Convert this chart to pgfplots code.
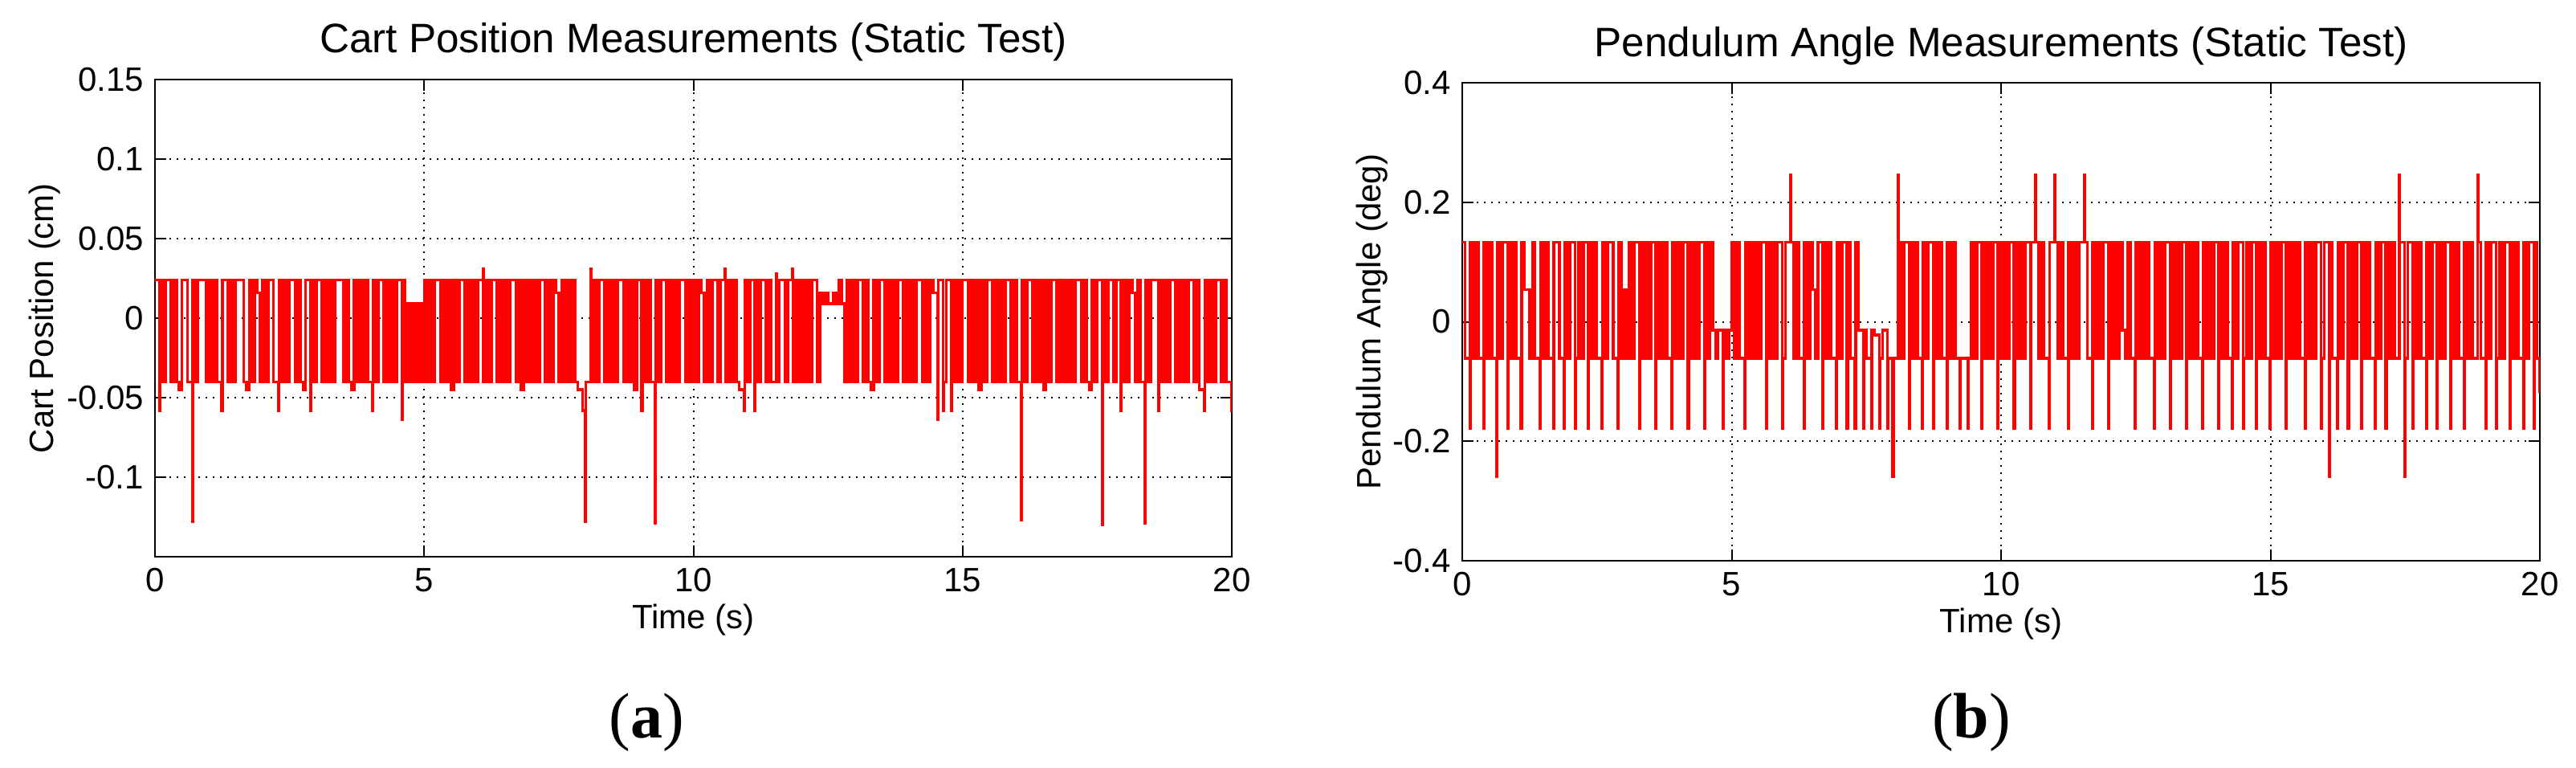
\documentclass[border=0pt]{standalone}
\usepackage{fontspec}
\setmainfont{Liberation Sans}
\newfontfamily\subfont{Liberation Serif}
\usepackage{pgfplots}
\usepackage{pgfplotstable}
\pgfplotsset{compat=1.18}

\pgfplotstableread[row sep=\\]{
t y \\
0.00 0.024 \\ 0.09 -0.058 \\ 0.10 0.024 \\ 0.15 -0.040 \\ 0.20 0.024 \\ 0.25 0.024 \\ 0.30 -0.040 \\ 0.35 0.024 \\ 0.40 -0.040 \\ 0.45 -0.045 \\
0.50 0.024 \\ 0.55 0.024 \\ 0.60 -0.040 \\ 0.69 -0.128 \\ 0.70 0.024 \\ 0.75 -0.040 \\ 0.80 0.024 \\ 0.85 0.024 \\ 0.90 0.024 \\ 0.95 -0.040 \\
1.00 0.024 \\ 1.05 -0.040 \\ 1.10 0.024 \\ 1.15 -0.040 \\ 1.24 -0.058 \\ 1.25 0.024 \\ 1.30 0.024 \\ 1.35 -0.040 \\ 1.40 0.024 \\ 1.45 -0.040 \\
1.50 0.024 \\ 1.55 0.024 \\ 1.60 0.024 \\ 1.65 -0.040 \\ 1.70 -0.045 \\ 1.75 0.024 \\ 1.80 -0.040 \\ 1.85 0.024 \\ 1.90 0.016 \\ 1.95 -0.040 \\
2.00 0.024 \\ 2.05 -0.040 \\ 2.10 0.024 \\ 2.15 0.024 \\ 2.20 -0.040 \\ 2.29 -0.058 \\ 2.30 0.024 \\ 2.35 -0.040 \\ 2.40 0.024 \\ 2.45 -0.040 \\
2.50 0.024 \\ 2.55 0.024 \\ 2.60 -0.040 \\ 2.65 0.024 \\ 2.70 -0.040 \\ 2.75 -0.045 \\ 2.80 0.024 \\ 2.89 -0.058 \\ 2.90 0.024 \\ 2.95 -0.040 \\
3.00 0.024 \\ 3.05 0.024 \\ 3.10 -0.040 \\ 3.15 0.024 \\ 3.20 -0.040 \\ 3.25 0.024 \\ 3.30 -0.040 \\ 3.35 0.024 \\ 3.40 0.024 \\ 3.45 0.024 \\
3.50 -0.040 \\ 3.55 0.024 \\ 3.60 -0.040 \\ 3.65 -0.045 \\ 3.70 0.024 \\ 3.75 -0.040 \\ 3.80 0.024 \\ 3.85 -0.040 \\ 3.90 0.024 \\ 3.95 -0.040 \\
4.04 -0.058 \\ 4.05 0.024 \\ 4.10 -0.040 \\ 4.15 0.024 \\ 4.20 0.024 \\ 4.25 -0.040 \\ 4.30 0.024 \\ 4.35 -0.040 \\ 4.40 0.024 \\ 4.45 -0.040 \\
4.50 0.024 \\ 4.59 -0.064 \\ 4.60 0.024 \\ 4.65 -0.040 \\ 4.70 0.009 \\ 4.75 -0.040 \\ 4.80 0.009 \\ 4.85 -0.040 \\ 4.90 0.009 \\ 4.95 -0.040 \\
5.00 0.024 \\ 5.05 -0.040 \\ 5.10 0.024 \\ 5.15 -0.040 \\ 5.20 0.024 \\ 5.25 0.024 \\ 5.30 -0.040 \\ 5.35 0.024 \\ 5.40 -0.040 \\ 5.45 0.024 \\
5.50 -0.045 \\ 5.55 0.024 \\ 5.60 -0.040 \\ 5.65 0.024 \\ 5.70 0.024 \\ 5.75 -0.040 \\ 5.80 0.024 \\ 5.85 -0.040 \\ 5.90 0.024 \\ 5.95 -0.040 \\
6.00 0.024 \\ 6.09 0.031 \\ 6.10 -0.040 \\ 6.15 0.024 \\ 6.20 -0.040 \\ 6.25 0.024 \\ 6.30 0.024 \\ 6.35 -0.040 \\ 6.40 0.024 \\ 6.45 -0.040 \\
6.50 0.024 \\ 6.55 -0.040 \\ 6.60 0.024 \\ 6.65 0.024 \\ 6.70 -0.040 \\ 6.75 0.024 \\ 6.80 -0.045 \\ 6.85 0.024 \\ 6.90 -0.040 \\ 6.95 0.024 \\
7.00 -0.040 \\ 7.05 0.024 \\ 7.10 -0.040 \\ 7.15 0.024 \\ 7.20 0.024 \\ 7.25 -0.040 \\ 7.30 0.024 \\ 7.35 -0.040 \\ 7.40 0.024 \\ 7.45 0.016 \\
7.50 -0.040 \\ 7.55 0.024 \\ 7.60 -0.040 \\ 7.65 0.024 \\ 7.70 -0.040 \\ 7.75 0.024 \\ 7.80 -0.040 \\ 7.85 -0.045 \\ 7.94 -0.058 \\ 7.99 -0.128 \\
8.00 -0.040 \\ 8.09 0.031 \\ 8.10 -0.040 \\ 8.15 0.024 \\ 8.20 -0.040 \\ 8.25 0.024 \\ 8.30 0.024 \\ 8.35 -0.040 \\ 8.40 0.024 \\ 8.45 -0.040 \\
8.50 0.024 \\ 8.55 -0.040 \\ 8.60 0.024 \\ 8.65 0.024 \\ 8.70 -0.040 \\ 8.75 0.024 \\ 8.80 -0.040 \\ 8.85 0.024 \\ 8.90 -0.045 \\ 8.95 0.024 \\
9.04 -0.058 \\ 9.05 0.024 \\ 9.10 -0.040 \\ 9.15 0.024 \\ 9.20 -0.040 \\ 9.29 -0.129 \\ 9.30 0.024 \\ 9.35 -0.040 \\ 9.40 0.024 \\ 9.45 0.024 \\
9.50 -0.040 \\ 9.55 0.024 \\ 9.60 -0.040 \\ 9.65 0.024 \\ 9.70 -0.040 \\ 9.75 0.024 \\ 9.80 0.024 \\ 9.85 -0.040 \\ 9.90 0.024 \\ 9.95 -0.040 \\
10.00 0.024 \\ 10.05 -0.040 \\ 10.10 0.024 \\ 10.15 0.016 \\ 10.20 -0.040 \\ 10.25 0.024 \\ 10.30 -0.040 \\ 10.35 0.024 \\ 10.40 0.024 \\ 10.45 -0.040 \\
10.50 0.024 \\ 10.59 0.031 \\ 10.60 -0.040 \\ 10.65 0.024 \\ 10.70 -0.040 \\ 10.75 0.024 \\ 10.80 -0.040 \\ 10.85 -0.045 \\ 10.94 -0.058 \\ 10.95 0.024 \\
11.00 -0.040 \\ 11.05 0.024 \\ 11.14 -0.058 \\ 11.15 0.024 \\ 11.20 -0.040 \\ 11.25 0.024 \\ 11.30 0.024 \\ 11.35 -0.040 \\ 11.40 0.024 \\ 11.45 -0.040 \\
11.54 0.028 \\ 11.55 -0.040 \\ 11.60 0.024 \\ 11.65 0.024 \\ 11.70 -0.040 \\ 11.75 0.024 \\ 11.84 0.031 \\ 11.85 -0.040 \\ 11.90 0.024 \\ 11.95 -0.040 \\
12.00 0.024 \\ 12.05 -0.040 \\ 12.10 0.024 \\ 12.15 -0.040 \\ 12.20 0.024 \\ 12.25 0.024 \\ 12.30 -0.040 \\ 12.35 0.016 \\ 12.40 0.009 \\ 12.45 0.016 \\
12.50 0.009 \\ 12.55 0.009 \\ 12.60 0.016 \\ 12.65 0.009 \\ 12.70 0.024 \\ 12.75 0.009 \\ 12.80 -0.040 \\ 12.85 0.024 \\ 12.90 -0.040 \\ 12.95 0.024 \\
13.00 -0.040 \\ 13.05 0.024 \\ 13.10 0.024 \\ 13.15 -0.040 \\ 13.20 0.024 \\ 13.25 -0.040 \\ 13.30 -0.045 \\ 13.35 0.024 \\ 13.40 -0.040 \\ 13.45 0.024 \\
13.50 0.024 \\ 13.55 -0.040 \\ 13.60 0.024 \\ 13.65 -0.040 \\ 13.70 0.024 \\ 13.75 -0.040 \\ 13.80 0.024 \\ 13.85 0.024 \\ 13.90 -0.040 \\ 13.95 0.024 \\
14.00 -0.040 \\ 14.05 0.024 \\ 14.10 -0.040 \\ 14.15 0.024 \\ 14.20 0.024 \\ 14.25 -0.040 \\ 14.30 0.024 \\ 14.35 -0.040 \\ 14.40 0.024 \\ 14.45 0.016 \\
14.54 -0.064 \\ 14.55 0.024 \\ 14.64 -0.058 \\ 14.65 -0.040 \\ 14.70 0.024 \\ 14.79 -0.058 \\ 14.80 0.024 \\ 14.85 -0.040 \\ 14.90 0.024 \\ 14.95 -0.040 \\
15.00 0.024 \\ 15.05 0.024 \\ 15.10 -0.040 \\ 15.15 0.024 \\ 15.20 -0.040 \\ 15.25 0.024 \\ 15.30 -0.045 \\ 15.35 0.024 \\ 15.40 -0.040 \\ 15.45 0.024 \\
15.50 0.024 \\ 15.55 -0.040 \\ 15.60 0.024 \\ 15.65 -0.040 \\ 15.70 0.024 \\ 15.75 -0.040 \\ 15.80 0.024 \\ 15.85 0.024 \\ 15.90 -0.040 \\ 15.95 0.024 \\
16.00 -0.040 \\ 16.09 -0.127 \\ 16.10 0.024 \\ 16.15 -0.040 \\ 16.20 0.024 \\ 16.25 0.024 \\ 16.30 -0.040 \\ 16.35 0.024 \\ 16.40 -0.040 \\ 16.45 0.024 \\
16.50 -0.045 \\ 16.55 0.024 \\ 16.60 -0.040 \\ 16.65 0.024 \\ 16.70 0.024 \\ 16.75 -0.040 \\ 16.80 0.024 \\ 16.85 -0.040 \\ 16.90 0.024 \\ 16.95 -0.040 \\
17.00 0.024 \\ 17.05 -0.040 \\ 17.10 0.024 \\ 17.15 0.024 \\ 17.20 -0.040 \\ 17.25 0.024 \\ 17.30 -0.040 \\ 17.35 -0.045 \\ 17.40 0.024 \\ 17.45 -0.040 \\
17.50 0.024 \\ 17.59 -0.130 \\ 17.60 0.024 \\ 17.65 -0.040 \\ 17.70 0.024 \\ 17.75 0.024 \\ 17.80 -0.040 \\ 17.85 0.024 \\ 17.94 -0.058 \\ 17.95 -0.040 \\
18.00 0.024 \\ 18.05 -0.040 \\ 18.10 0.024 \\ 18.15 0.016 \\ 18.20 -0.040 \\ 18.25 0.024 \\ 18.30 -0.040 \\ 18.39 -0.129 \\ 18.40 0.024 \\ 18.45 -0.040 \\
18.50 0.024 \\ 18.55 0.024 \\ 18.64 -0.058 \\ 18.65 0.024 \\ 18.70 -0.040 \\ 18.75 0.024 \\ 18.80 -0.040 \\ 18.85 0.024 \\ 18.90 0.024 \\ 18.95 -0.040 \\
19.00 0.024 \\ 19.05 -0.040 \\ 19.10 0.024 \\ 19.15 -0.040 \\ 19.20 0.024 \\ 19.25 0.024 \\ 19.30 -0.040 \\ 19.35 0.024 \\ 19.40 -0.045 \\ 19.49 -0.058 \\
19.50 0.024 \\ 19.55 -0.040 \\ 19.60 0.024 \\ 19.65 -0.040 \\ 19.70 0.024 \\ 19.75 0.024 \\ 19.80 -0.040 \\ 19.85 0.024 \\ 19.90 -0.040 \\ 19.99 -0.058 \\
20.00 -0.045 \\
}\cartdata

\pgfplotstableread[row sep=\\]{
t y \\
0.00 0.133 \\ 0.05 -0.061 \\ 0.14 -0.178 \\ 0.15 0.133 \\ 0.20 -0.061 \\ 0.25 0.133 \\ 0.30 -0.061 \\ 0.39 -0.178 \\ 0.40 0.133 \\ 0.45 -0.061 \\
0.50 0.133 \\ 0.55 -0.061 \\ 0.64 -0.259 \\ 0.65 0.133 \\ 0.70 -0.061 \\ 0.75 0.133 \\ 0.84 -0.178 \\ 0.85 0.133 \\ 0.90 -0.061 \\ 0.95 0.133 \\
1.00 -0.061 \\ 1.09 -0.178 \\ 1.10 0.133 \\ 1.15 0.054 \\ 1.20 0.054 \\ 1.25 -0.061 \\ 1.30 0.133 \\ 1.35 -0.061 \\ 1.44 -0.178 \\ 1.45 0.133 \\
1.50 -0.061 \\ 1.55 0.133 \\ 1.60 -0.061 \\ 1.69 -0.178 \\ 1.70 0.133 \\ 1.75 0.133 \\ 1.80 -0.061 \\ 1.89 -0.178 \\ 1.90 0.133 \\ 1.95 -0.061 \\
2.00 0.133 \\ 2.09 -0.178 \\ 2.10 -0.061 \\ 2.15 0.133 \\ 2.20 -0.061 \\ 2.25 0.133 \\ 2.34 -0.178 \\ 2.35 0.133 \\ 2.40 -0.061 \\ 2.45 0.133 \\
2.50 -0.061 \\ 2.59 -0.178 \\ 2.60 0.133 \\ 2.65 -0.061 \\ 2.70 0.133 \\ 2.75 0.133 \\ 2.80 -0.061 \\ 2.89 -0.178 \\ 2.90 0.133 \\ 2.95 -0.061 \\
3.00 0.054 \\ 3.05 -0.061 \\ 3.10 0.133 \\ 3.15 -0.061 \\ 3.20 0.133 \\ 3.29 -0.178 \\ 3.30 0.133 \\ 3.35 -0.061 \\ 3.40 0.133 \\ 3.45 -0.061 \\
3.50 0.133 \\ 3.59 -0.178 \\ 3.60 -0.061 \\ 3.65 0.133 \\ 3.70 -0.061 \\ 3.75 0.133 \\ 3.80 -0.061 \\ 3.89 -0.178 \\ 3.90 0.133 \\ 3.95 -0.061 \\
4.00 0.133 \\ 4.05 -0.061 \\ 4.10 0.133 \\ 4.19 -0.178 \\ 4.20 0.133 \\ 4.25 -0.061 \\ 4.30 0.133 \\ 4.35 -0.061 \\ 4.40 0.133 \\ 4.49 -0.178 \\
4.50 0.133 \\ 4.55 -0.061 \\ 4.60 0.133 \\ 4.65 -0.014 \\ 4.70 -0.061 \\ 4.75 -0.014 \\ 4.84 -0.178 \\ 4.85 -0.014 \\ 4.90 -0.061 \\ 4.95 -0.014 \\
5.00 0.133 \\ 5.05 -0.061 \\ 5.10 0.133 \\ 5.15 -0.061 \\ 5.24 -0.178 \\ 5.25 0.133 \\ 5.30 -0.061 \\ 5.35 0.133 \\ 5.40 -0.061 \\ 5.45 0.133 \\
5.50 -0.061 \\ 5.55 0.133 \\ 5.64 -0.178 \\ 5.65 0.133 \\ 5.70 -0.061 \\ 5.75 0.133 \\ 5.80 -0.061 \\ 5.85 0.133 \\ 5.94 -0.178 \\ 5.95 -0.061 \\
6.00 0.133 \\ 6.09 0.246 \\ 6.10 0.133 \\ 6.15 -0.061 \\ 6.20 0.133 \\ 6.25 -0.061 \\ 6.34 -0.178 \\ 6.35 0.133 \\ 6.40 -0.061 \\ 6.45 0.133 \\
6.50 0.054 \\ 6.55 -0.061 \\ 6.60 0.133 \\ 6.69 -0.178 \\ 6.70 0.133 \\ 6.75 -0.061 \\ 6.80 0.133 \\ 6.85 -0.061 \\ 6.94 -0.178 \\ 6.95 0.133 \\
7.00 -0.061 \\ 7.05 0.133 \\ 7.14 -0.178 \\ 7.15 0.133 \\ 7.20 -0.061 \\ 7.29 -0.178 \\ 7.30 0.133 \\ 7.35 -0.014 \\ 7.44 -0.178 \\ 7.45 -0.014 \\
7.50 -0.061 \\ 7.59 -0.178 \\ 7.60 -0.014 \\ 7.65 -0.022 \\ 7.74 -0.178 \\ 7.75 -0.061 \\ 7.80 -0.014 \\ 7.89 -0.178 \\ 7.90 -0.061 \\ 7.99 -0.259 \\
8.00 -0.061 \\ 8.09 0.246 \\ 8.10 0.133 \\ 8.15 -0.061 \\ 8.20 0.133 \\ 8.29 -0.178 \\ 8.30 0.133 \\ 8.35 -0.061 \\ 8.40 0.133 \\ 8.45 -0.061 \\
8.54 -0.178 \\ 8.55 0.133 \\ 8.60 -0.061 \\ 8.65 0.133 \\ 8.74 -0.178 \\ 8.75 0.133 \\ 8.80 -0.061 \\ 8.85 0.133 \\ 8.90 -0.061 \\ 8.99 -0.178 \\
9.00 0.133 \\ 9.05 -0.061 \\ 9.10 0.133 \\ 9.15 -0.061 \\ 9.24 -0.178 \\ 9.25 -0.061 \\ 9.30 -0.061 \\ 9.39 -0.178 \\ 9.40 -0.061 \\ 9.45 0.133 \\
9.50 -0.061 \\ 9.55 0.133 \\ 9.64 -0.178 \\ 9.65 0.133 \\ 9.70 -0.061 \\ 9.75 0.133 \\ 9.80 -0.061 \\ 9.85 0.133 \\ 9.94 -0.178 \\ 9.95 0.133 \\
10.00 -0.061 \\ 10.05 0.133 \\ 10.10 -0.061 \\ 10.15 0.133 \\ 10.24 -0.178 \\ 10.25 0.133 \\ 10.30 -0.061 \\ 10.35 0.133 \\ 10.40 -0.061 \\ 10.45 0.133 \\
10.54 -0.178 \\ 10.55 0.133 \\ 10.64 0.246 \\ 10.65 0.133 \\ 10.70 -0.061 \\ 10.75 0.133 \\ 10.80 -0.061 \\ 10.89 -0.178 \\ 10.90 0.133 \\ 10.99 0.246 \\
11.00 0.133 \\ 11.05 -0.061 \\ 11.10 0.133 \\ 11.15 -0.061 \\ 11.24 -0.178 \\ 11.25 0.133 \\ 11.30 -0.061 \\ 11.35 0.133 \\ 11.40 -0.061 \\ 11.45 0.133 \\
11.54 0.246 \\ 11.55 0.133 \\ 11.60 -0.061 \\ 11.69 -0.178 \\ 11.70 0.133 \\ 11.75 -0.061 \\ 11.80 0.133 \\ 11.85 -0.061 \\ 11.90 0.133 \\ 11.99 -0.178 \\
12.00 0.133 \\ 12.05 -0.061 \\ 12.10 0.133 \\ 12.15 -0.061 \\ 12.20 0.133 \\ 12.25 -0.014 \\ 12.30 -0.061 \\ 12.35 0.133 \\ 12.40 -0.061 \\ 12.49 -0.178 \\
12.50 0.133 \\ 12.55 -0.061 \\ 12.60 0.133 \\ 12.65 -0.061 \\ 12.70 0.133 \\ 12.75 -0.061 \\ 12.84 -0.178 \\ 12.85 0.133 \\ 12.90 -0.061 \\ 12.95 0.133 \\
13.00 -0.061 \\ 13.05 0.133 \\ 13.14 -0.178 \\ 13.15 0.133 \\ 13.20 -0.061 \\ 13.25 0.133 \\ 13.30 -0.061 \\ 13.35 0.133 \\ 13.44 -0.178 \\ 13.45 -0.061 \\
13.50 0.133 \\ 13.55 -0.061 \\ 13.60 0.133 \\ 13.65 -0.061 \\ 13.74 -0.178 \\ 13.75 0.133 \\ 13.80 -0.061 \\ 13.85 0.133 \\ 13.90 -0.061 \\ 13.95 0.133 \\
14.04 -0.178 \\ 14.05 0.133 \\ 14.10 -0.061 \\ 14.15 0.133 \\ 14.20 -0.061 \\ 14.29 -0.178 \\ 14.30 0.133 \\ 14.35 -0.061 \\ 14.40 0.133 \\ 14.49 -0.178 \\
14.50 -0.061 \\ 14.55 0.133 \\ 14.60 -0.061 \\ 14.65 0.133 \\ 14.74 -0.178 \\ 14.75 0.133 \\ 14.80 -0.061 \\ 14.85 0.133 \\ 14.90 -0.061 \\ 14.99 -0.178 \\
15.00 0.133 \\ 15.05 -0.061 \\ 15.10 0.133 \\ 15.15 -0.061 \\ 15.20 0.133 \\ 15.29 -0.178 \\ 15.30 0.133 \\ 15.35 -0.061 \\ 15.40 0.133 \\ 15.45 -0.061 \\
15.50 0.133 \\ 15.55 -0.061 \\ 15.64 -0.178 \\ 15.65 0.133 \\ 15.70 -0.061 \\ 15.75 0.133 \\ 15.80 -0.061 \\ 15.85 0.133 \\ 15.94 -0.178 \\ 15.95 -0.061 \\
16.00 0.133 \\ 16.09 -0.259 \\ 16.10 0.133 \\ 16.15 -0.061 \\ 16.24 -0.178 \\ 16.25 0.133 \\ 16.30 -0.061 \\ 16.35 0.133 \\ 16.44 -0.178 \\ 16.45 -0.061 \\
16.50 0.133 \\ 16.55 -0.061 \\ 16.60 0.133 \\ 16.69 -0.178 \\ 16.70 0.133 \\ 16.75 -0.061 \\ 16.80 0.133 \\ 16.85 -0.061 \\ 16.94 -0.178 \\ 16.95 0.133 \\
17.00 -0.061 \\ 17.05 0.133 \\ 17.14 -0.178 \\ 17.15 0.133 \\ 17.20 -0.061 \\ 17.25 0.133 \\ 17.30 -0.061 \\ 17.39 0.246 \\ 17.40 0.133 \\ 17.49 -0.259 \\
17.50 -0.061 \\ 17.55 0.133 \\ 17.64 -0.178 \\ 17.65 0.133 \\ 17.70 -0.061 \\ 17.75 0.133 \\ 17.80 -0.061 \\ 17.89 -0.178 \\ 17.90 0.133 \\ 17.95 -0.061 \\
18.00 0.133 \\ 18.09 -0.178 \\ 18.10 -0.061 \\ 18.15 0.133 \\ 18.20 -0.061 \\ 18.25 0.133 \\ 18.34 -0.178 \\ 18.35 0.133 \\ 18.40 -0.061 \\ 18.45 0.133 \\
18.50 -0.061 \\ 18.59 -0.178 \\ 18.60 0.133 \\ 18.65 -0.061 \\ 18.70 0.133 \\ 18.75 -0.061 \\ 18.84 0.246 \\ 18.85 0.133 \\ 18.90 -0.061 \\ 18.99 -0.178 \\
19.00 0.133 \\ 19.05 -0.061 \\ 19.10 0.133 \\ 19.19 -0.178 \\ 19.20 -0.061 \\ 19.25 0.133 \\ 19.30 -0.061 \\ 19.35 0.133 \\ 19.44 -0.178 \\ 19.45 0.133 \\
19.50 -0.061 \\ 19.55 0.133 \\ 19.60 -0.061 \\ 19.69 -0.178 \\ 19.70 0.133 \\ 19.75 -0.061 \\ 19.80 0.133 \\ 19.89 -0.178 \\ 19.90 0.133 \\ 19.95 -0.061 \\
20.00 -0.119 \\
}\penddata

\newcommand\tickfont{\fontsize{10.5}{12}\selectfont}
\newcommand\labfont{\fontsize{10.5}{12}\selectfont}
\newcommand\titfont{\fontsize{12.8}{15}\selectfont}

\pgfplotsset{
  mlab/.style={
    scale only axis,
    xmin=0, xmax=20,
    xtick={0,5,10,15,20},
    xticklabels={0,5,10,15,20},
    tick align=inside,
    xtick pos=both, ytick pos=both,
    major tick length=3.5pt,
    tick style={black, line width=0.5pt},
    axis line style={black, line width=0.55pt},
    grid=major,
    major grid style={draw=black, line width=0.5pt, dash pattern=on 0.5pt off 1.75pt},
    ticklabel style={font=\tickfont},
    xticklabel style={anchor=base, yshift=-10.75pt},
  }
}

\begin{document}
\begin{tikzpicture}
\path[use as bounding box] (0,0) rectangle (802pt,238.75pt);

\begin{axis}[mlab, name=cart,
  at={(48.25pt,65.5pt)}, anchor=south west,
  width=335.25pt, height=148.5pt,
  ymin=-0.15, ymax=0.15,
  ytick={-0.1,-0.05,0,0.05,0.1,0.15},
  yticklabels={-0.1,-0.05,0,0.05,0.1,0.15}]
\addplot[const plot, color=red, line width=0.85pt] table[x=t, y=y] {\cartdata};
\end{axis}

\begin{axis}[mlab, name=pend,
  at={(455.25pt,64.25pt)}, anchor=south west,
  width=335.5pt, height=148.75pt,
  ymin=-0.4, ymax=0.4,
  ytick={-0.4,-0.2,0,0.2,0.4},
  yticklabels={-0.4,-0.2,0,0.2,0.4}]
\addplot[const plot, color=red, line width=0.85pt] table[x=t, y=y] {\penddata};
\end{axis}

\node[font=\titfont, anchor=base] at ([yshift=8.5pt]cart.north) {Cart Position Measurements (Static Test)};
\node[font=\titfont, anchor=base] at ([yshift=8.25pt]pend.north) {Pendulum Angle Measurements (Static Test)};
\node[font=\labfont, anchor=base] at ([yshift=-22.25pt]cart.south) {Time (s)};
\node[font=\labfont, anchor=base] at ([yshift=-22.25pt]pend.south) {Time (s)};
\node[font=\labfont, anchor=base, rotate=90] at ([xshift=-31.75pt]cart.west) {Cart Position (cm)};
\node[font=\labfont, anchor=base, rotate=90] at ([xshift=-25.5pt]pend.west) {Pendulum Angle (deg)};
\node[font=\subfont\fontsize{20}{24}\selectfont, anchor=base] at (201.25pt,9.25pt) {(\textbf{a})};
\node[font=\subfont\fontsize{20}{24}\selectfont, anchor=base] at (613.75pt,9.25pt) {(\textbf{b})};
\end{tikzpicture}
\end{document}
